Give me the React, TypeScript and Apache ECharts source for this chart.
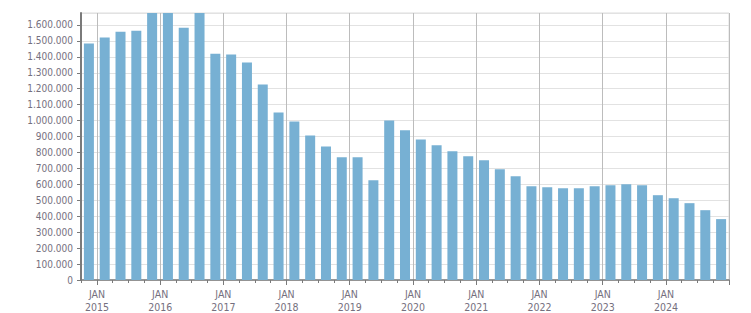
import React, { useEffect, useRef } from "react";
import * as echarts from "echarts";

// Quarterly observations (year-month of each bar)
const periods: string[] = [
  "2014-11",
  "2015-02", "2015-05", "2015-08", "2015-11",
  "2016-02", "2016-05", "2016-08", "2016-11",
  "2017-02", "2017-05", "2017-08", "2017-11",
  "2018-02", "2018-05", "2018-08", "2018-11",
  "2019-02", "2019-05", "2019-08", "2019-11",
  "2020-02", "2020-05", "2020-08", "2020-11",
  "2021-02", "2021-05", "2021-08", "2021-11",
  "2022-02", "2022-05", "2022-08", "2022-11",
  "2023-02", "2023-05", "2023-08", "2023-11",
  "2024-02", "2024-05", "2024-08", "2024-11",
];

const values: number[] = [
  1483000,
  1521000, 1558000, 1564000, 1690000,
  1680000, 1583000, 1685000, 1420000,
  1414000, 1364000, 1226000, 1051000,
  995000, 907000, 838000, 770000,
  770000, 626000, 1001000, 939000,
  882000, 845000, 807000, 776000,
  751000, 695000, 651000, 588000,
  582000, 576000, 576000, 588000,
  595000, 601000, 595000, 532000,
  513000, 482000, 438000, 382000,
];

const axisStart = { year: 2014, month: 10 };
const axisEnd = { year: 2024, month: 12 };
const monthLabel = "JAN";
const yMax = 1675000;
const yInterval = 100000;

function buildMonths(): string[] {
  const out: string[] = [];
  let y = axisStart.year;
  let m = axisStart.month;
  while (y < axisEnd.year || (y === axisEnd.year && m <= axisEnd.month)) {
    out.push(`${y}-${String(m).padStart(2, "0")}`);
    m++;
    if (m > 12) {
      m = 1;
      y++;
    }
  }
  return out;
}

const fmt = (v: number) => String(v).replace(/\B(?=(\d{3})+(?!\d))/g, ".");

export default function App() {
  const ref = useRef<HTMLDivElement>(null);

  useEffect(() => {
    if (!ref.current) return;
    const chart = echarts.init(ref.current, undefined, { renderer: "svg" });
    const months = buildMonths();
    const lookup: Record<string, number> = {};
    periods.forEach((p, i) => (lookup[p] = values[i]));
    const seriesData = months.map((m) => (m in lookup ? lookup[m] : null));

    const isJan = (_i: number, v: string) => v.endsWith("-01");
    const isQuarter = (_i: number, v: string) =>
      ["01", "04", "07", "10"].includes(v.slice(5, 7));

    const font = "'DejaVu Sans Condensed', 'DejaVu Sans', sans-serif";
    const labelColor = "#75707e";
    const axisColor = "#7a7a7a";

    chart.setOption({
      animation: false,
      backgroundColor: "#ffffff",
      grid: {
        left: 81,
        right: 22,
        top: 13,
        bottom: 32,
        show: true,
        borderColor: "#dcdcdc",
        borderWidth: 1,
      },
      xAxis: [
        {
          type: "category",
          data: months,
          boundaryGap: true,
          position: "bottom",
          axisLine: { show: true, lineStyle: { color: axisColor, width: 1.5 } },
          axisTick: {
            show: true,
            interval: isJan,
            length: 5,
            lineStyle: { color: axisColor },
          },
          axisLabel: {
            show: true,
            interval: isJan,
            formatter: (v: string) => `${monthLabel}\n${v.slice(0, 4)}`,
            color: labelColor,
            fontFamily: font,
            fontSize: 10.5,
            lineHeight: 13,
            margin: 7,
            padding: [0, 5, 0, 0],
          },
          splitLine: {
            show: true,
            interval: isJan,
            lineStyle: { color: "#bcbcbc", width: 1 },
          },
        },
        {
          type: "category",
          data: months,
          boundaryGap: true,
          position: "bottom",
          axisLine: { show: false },
          axisTick: {
            show: true,
            interval: isQuarter,
            length: 3,
            lineStyle: { color: axisColor },
          },
          axisLabel: { show: false },
          splitLine: { show: false },
        },
      ],
      yAxis: {
        type: "value",
        min: 0,
        max: yMax,
        interval: yInterval,
        axisLine: { show: true, lineStyle: { color: axisColor, width: 2 } },
        axisTick: { show: true, length: 4, lineStyle: { color: axisColor } },
        axisLabel: {
          formatter: (v: number) => fmt(v),
          color: labelColor,
          fontFamily: font,
          fontSize: 10,
          margin: 8,
          showMaxLabel: false,
        },
        splitLine: { show: true, lineStyle: { color: "#e2e2e2", width: 1 } },
      },
      series: [
        {
          type: "bar",
          xAxisIndex: 0,
          data: seriesData,
          barWidth: 10,
          clip: true,
          itemStyle: { color: "#77b0d3" },
        },
      ],
    });

    return () => chart.dispose();
  }, []);

  return (
    <div
      ref={ref}
      style={{ position: "absolute", left: 0, top: 0, width: 751, height: 313 }}
    />
  );
}
